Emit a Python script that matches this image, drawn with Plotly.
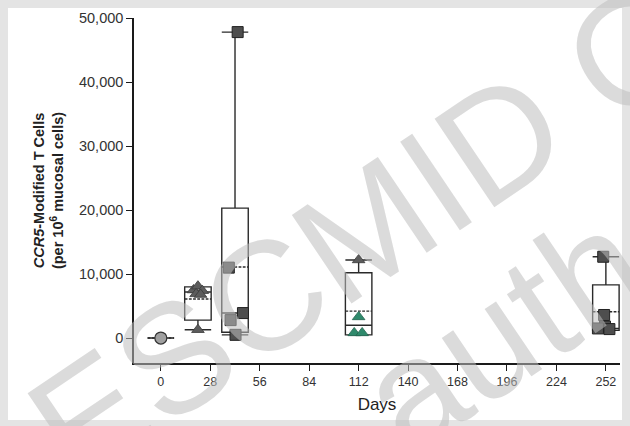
import plotly.graph_objects as go

# Sampling days and per-day box statistics (modified cells per 10^6 mucosal cells)
days = [0, 21, 42, 112, 252]
q1 = [0, 2800, 900, 500, 1200]
median = [0, 7200, 3900, 2000, 1500]
q3 = [0, 8000, 20300, 10200, 8300]
lower = [0, 1300, 500, 500, 1200]
upper = [0, 8000, 47800, 12200, 12700]
means = [0, 6100, 11100, 4200, 4100]

# Individual measurements, grouped by marker symbol
circle_x = [0]
circle_y = [0]
tri_x = [18.5, 21, 23.5, 20, 22.5, 21, 112]
tri_y = [7500, 8100, 7400, 6900, 6800, 1300, 12200]
green_x = [112, 109.5, 114]
green_y = [3300, 800, 800]
square_x = [43.5, 38.5, 46.5, 39.5, 42.3, 250.5, 251, 251.5, 247.5, 254]
square_y = [47800, 11000, 3900, 2800, 500, 12700, 3600, 1800, 1500, 1400]

x_ticks = list(range(0, 253, 28))
y_ticks = [0, 10000, 20000, 30000, 40000, 50000]

fig = go.Figure()

fig.add_trace(go.Box(
    x=days, q1=q1, median=median, q3=q3,
    lowerfence=lower, upperfence=upper, mean=means,
    boxmean=True, boxpoints=False, width=15, whiskerwidth=1,
    fillcolor="rgba(255,255,255,0)",
    line=dict(color="#2a2a2a", width=1.4),
    hoverinfo="skip", showlegend=False,
))

fig.add_trace(go.Scatter(
    x=circle_x, y=circle_y, mode="markers",
    marker=dict(symbol="circle", size=12, color="#a0a0a0",
                line=dict(color="#333333", width=1.2)),
    showlegend=False,
))
fig.add_trace(go.Scatter(
    x=tri_x, y=tri_y, mode="markers",
    marker=dict(symbol="triangle-up", size=11, color="#5c5c5c",
                line=dict(color="#3a3a3a", width=0.8)),
    showlegend=False,
))
fig.add_trace(go.Scatter(
    x=green_x, y=green_y, mode="markers",
    marker=dict(symbol="triangle-up", size=11, color="#2f8a6c",
                line=dict(color="#22634e", width=0.8)),
    showlegend=False,
))
fig.add_trace(go.Scatter(
    x=square_x, y=square_y, mode="markers",
    marker=dict(symbol="square", size=11, color="#4e4e4e",
                line=dict(color="#222222", width=1)),
    showlegend=False,
))

font_family = "Liberation Sans, Arial, sans-serif"

fig.update_xaxes(
    range=[-15.2, 260], tickvals=x_ticks, ticktext=[str(t) for t in x_ticks],
    showgrid=False, zeroline=False, showline=True, linecolor="#1a1a1a", linewidth=1.5,
    ticks="outside", ticklen=6, tickwidth=1.2, tickcolor="#1a1a1a",
    tickfont=dict(family=font_family, size=12.5, color="#333333"),
    title=dict(text="Days", font=dict(family=font_family, size=17, color="#222222"),
               standoff=10),
)
fig.update_yaxes(
    range=[-3900, 50000], tickvals=y_ticks, tickformat=",d",
    showgrid=False, zeroline=False, showline=True, linecolor="#1a1a1a", linewidth=1.5,
    ticks="outside", ticklen=6, tickwidth=1.2, tickcolor="#1a1a1a",
    tickfont=dict(family=font_family, size=14.5, color="#333333"),
    title=dict(text="<b><i>CCR5</i>-Modified T Cells</b><br><b>(per 10<sup>6</sup> mucosal cells)</b>",
               font=dict(family=font_family, size=14.5, color="#222222"), standoff=12),
)

# Light grey frame around the page
frame_shape = dict(type="rect", xref="paper", yref="paper",
                   x0=(8 - 134) / 486, x1=(622 - 134) / 486,
                   y0=(363 - 420) / 345, y1=(363 - 8) / 345,
                   fillcolor="white", line=dict(width=0), layer="below")

wm_font = dict(family=font_family, size=155, color="rgba(190,190,190,0.55)")
fig.update_layout(
    width=630, height=426,
    margin=dict(l=134, r=10, t=18, b=63),
    paper_bgcolor="#e4e4e4", plot_bgcolor="white",
    shapes=[frame_shape],
    annotations=[
        dict(text="ESCMID Online", xref="paper", yref="paper",
             x=(500 - 134) / 486, y=(363 - 138) / 345, xanchor="center", yanchor="middle",
             textangle=-34, showarrow=False, font=wm_font),
        dict(text="author", xref="paper", yref="paper",
             x=(560 - 134) / 486, y=(363 - 292) / 345, xanchor="center", yanchor="middle",
             textangle=-34, showarrow=False, font=wm_font),
    ],
)

fig.write_html("out.html")
